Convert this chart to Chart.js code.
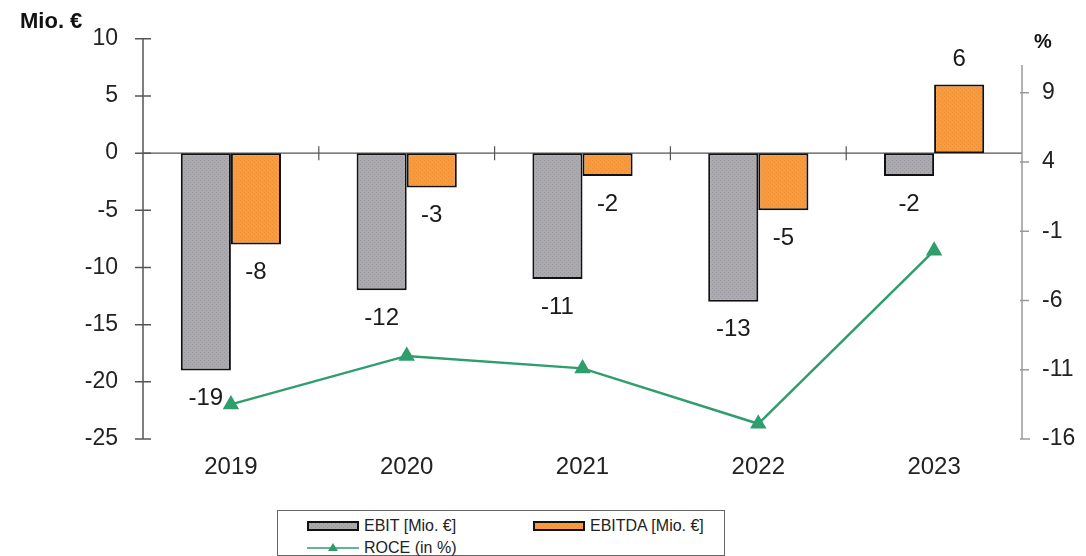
<!DOCTYPE html>
<html>
<head>
<meta charset="utf-8">
<script src="https://cdn.jsdelivr.net/npm/chart.js@4/dist/chart.umd.min.js"></script>
<style>
  html, body { margin: 0; padding: 0; background: #fff; }
  #wrap { position: relative; width: 1086px; height: 556px; }
  #legend { position: absolute; left: 277px; top: 510px; width: 446px; height: 44px;
            border: 1px solid #666; background: #fff; font-family: "Liberation Sans", Arial, sans-serif;
            font-size: 16px; color: #222; }
  .item { position: absolute; display: flex; align-items: center; white-space: nowrap; }
  .item canvas { margin-right: 5px; }
</style>
</head>
<body>
<div id="wrap">
  <canvas id="c"></canvas>
  <div id="legend"></div>
</div>
<script>
const categories = ['2019', '2020', '2021', '2022', '2023'];
const ebit = [-19, -12, -11, -13, -2];
const ebitda = [-8, -3, -2, -5, 6];
const roce = [-13.5, -10, -10.9, -14.9, -2.4];
const leftTicks = [10, 5, 0, -5, -10, -15, -20, -25];
const rightTicks = [9, 4, -1, -6, -11, -16];
const seriesLabels = ['EBIT [Mio. €]', 'EBITDA [Mio. €]', 'ROCE (in %)'];

const FONT = '"Liberation Sans", Arial, sans-serif';
const canvas = document.getElementById('c');
const mainCtx = canvas.getContext('2d');

function makePattern(base, dot) {
  const p = document.createElement('canvas');
  p.width = 4; p.height = 4;
  const g = p.getContext('2d');
  g.fillStyle = base; g.fillRect(0, 0, 4, 4);
  g.fillStyle = dot; g.fillRect(0, 0, 1, 1); g.fillRect(2, 2, 1, 1);
  return mainCtx.createPattern(p, 'repeat');
}
const grayFill = makePattern('#ababab', '#9a96a2');
const orangeFill = makePattern('#f89a3e', '#ec8d32');
const green = '#2f9e6c';

const axesPlugin = {
  id: 'axesPlugin',
  beforeDatasetsDraw(chart) {
    const ctx = chart.ctx, ca = chart.chartArea;
    const y = chart.scales.y, y1 = chart.scales.y1, x = chart.scales.x;
    ctx.save();
    // left axis
    ctx.strokeStyle = '#555'; ctx.lineWidth = 1.5;
    ctx.beginPath();
    ctx.moveTo(ca.left, y.getPixelForValue(leftTicks[0]));
    ctx.lineTo(ca.left, y.getPixelForValue(leftTicks[leftTicks.length - 1]));
    leftTicks.forEach(v => {
      const py = y.getPixelForValue(v);
      ctx.moveTo(ca.left - 8, py); ctx.lineTo(ca.left + 8, py);
    });
    ctx.stroke();
    // zero line
    const y0 = y.getPixelForValue(0);
    ctx.lineWidth = 1.2;
    ctx.beginPath();
    ctx.moveTo(ca.left, y0); ctx.lineTo(ca.right, y0);
    for (let i = 1; i < categories.length; i++) {
      const bx = (x.getPixelForValue(i - 1) + x.getPixelForValue(i)) / 2;
      ctx.moveTo(bx, y0 - 7); ctx.lineTo(bx, y0 + 7);
    }
    ctx.stroke();
    // right axis
    ctx.strokeStyle = '#9a9a9a'; ctx.lineWidth = 1.5;
    ctx.beginPath();
    const bottomR = y1.getPixelForValue(rightTicks[rightTicks.length - 1]);
    ctx.moveTo(ca.right, y1.getPixelForValue(11));
    ctx.lineTo(ca.right, bottomR);
    ctx.lineTo(ca.right + 8, bottomR);
    rightTicks.forEach(v => {
      const py = y1.getPixelForValue(v);
      ctx.moveTo(ca.right - 2, py); ctx.lineTo(ca.right + 7, py);
    });
    ctx.stroke();
    ctx.restore();
  },
  afterDatasetsDraw(chart) {
    const ctx = chart.ctx;
    ctx.save();
    ctx.font = '24px ' + FONT;
    ctx.fillStyle = '#1a1a1a';
    ctx.textAlign = 'center';
    ctx.textBaseline = 'middle';
    [0, 1].forEach(di => {
      const meta = chart.getDatasetMeta(di);
      const data = chart.data.datasets[di].data;
      meta.data.forEach((el, i) => {
        const v = data[i];
        const ty = v < 0 ? el.y + 28 : el.y - 25;
        ctx.fillText(String(v), el.x, ty);
      });
    });
    // unit titles
    ctx.fillStyle = '#111';
    ctx.textAlign = 'left';
    ctx.textBaseline = 'alphabetic';
    ctx.font = 'bold 22px ' + FONT;
    ctx.fillText('Mio. €', 20, 28);
    ctx.font = 'bold 20px ' + FONT;
    ctx.fillText('%', 1034, 48);
    ctx.restore();
  }
};

const chart = new Chart(canvas, {
  data: {
    labels: categories,
    datasets: [
      { type: 'bar', label: seriesLabels[0], data: ebit, yAxisID: 'y', order: 1,
        backgroundColor: grayFill, borderColor: '#111', borderWidth: 2, borderSkipped: false,
        categoryPercentage: 0.57, barPercentage: 1.0 },
      { type: 'bar', label: seriesLabels[1], data: ebitda, yAxisID: 'y', order: 1,
        backgroundColor: orangeFill, borderColor: '#111', borderWidth: 2, borderSkipped: false,
        categoryPercentage: 0.57, barPercentage: 1.0 },
      { type: 'line', label: seriesLabels[2], data: roce, yAxisID: 'y1', order: 0,
        borderColor: green, backgroundColor: green, borderWidth: 2.5,
        pointStyle: 'triangle', pointRadius: 7, pointHoverRadius: 7, tension: 0 }
    ]
  },
  options: {
    responsive: true,
    maintainAspectRatio: false,
    animation: false,
    events: [],
    layout: { padding: { top: 37, left: 0, right: 0, bottom: 0 } },
    plugins: { legend: { display: false }, tooltip: { enabled: false } },
    scales: {
      x: {
        type: 'category', offset: true,
        grid: { display: false, drawTicks: false }, border: { display: false },
        ticks: { font: { family: FONT, size: 24 }, color: '#222', padding: 14 },
        afterFit(s) { s.height = 117; }
      },
      y: {
        type: 'linear', position: 'left', min: -25, max: 10,
        grid: { display: false, drawTicks: false }, border: { display: false },
        afterBuildTicks(s) { s.ticks = leftTicks.map(v => ({ value: v })); },
        ticks: { font: { family: FONT, size: 23 }, color: '#222', padding: 25 },
        afterFit(s) { s.width = 143; }
      },
      y1: {
        type: 'linear', position: 'right', min: -16, max: 12.9,
        grid: { display: false, drawTicks: false }, border: { display: false },
        afterBuildTicks(s) { s.ticks = rightTicks.map(v => ({ value: v })); },
        ticks: { font: { family: FONT, size: 23 }, color: '#222', padding: 20 },
        afterFit(s) { s.width = 64; }
      }
    }
  },
  plugins: [axesPlugin]
});

// HTML legend built from the chart's datasets
(function buildLegend() {
  const legend = document.getElementById('legend');
  const spots = [ { left: 29, top: 15 }, { left: 255, top: 15 }, { left: 29, top: 37 } ];
  chart.data.datasets.forEach((ds, i) => {
    const item = document.createElement('div');
    item.className = 'item';
    item.style.left = spots[i].left + 'px';
    item.style.top = (spots[i].top - 10) + 'px';
    item.style.height = '20px';
    const sw = document.createElement('canvas');
    sw.width = 52; sw.height = 14;
    const g = sw.getContext('2d');
    if (ds.type === 'bar') {
      g.fillStyle = ds.backgroundColor;
      g.fillRect(1, 3, 50, 8);
      g.strokeStyle = ds.borderColor; g.lineWidth = 2;
      g.strokeRect(1, 3, 50, 8);
    } else {
      g.strokeStyle = ds.borderColor; g.lineWidth = 1.5;
      g.beginPath(); g.moveTo(0, 7); g.lineTo(52, 7); g.stroke();
      g.fillStyle = ds.backgroundColor;
      g.beginPath(); g.moveTo(26, 2); g.lineTo(31, 10); g.lineTo(21, 10); g.closePath(); g.fill();
    }
    const t = document.createElement('span');
    t.textContent = ds.label;
    item.appendChild(sw);
    item.appendChild(t);
    legend.appendChild(item);
  });
})();
</script>
</body>
</html>
